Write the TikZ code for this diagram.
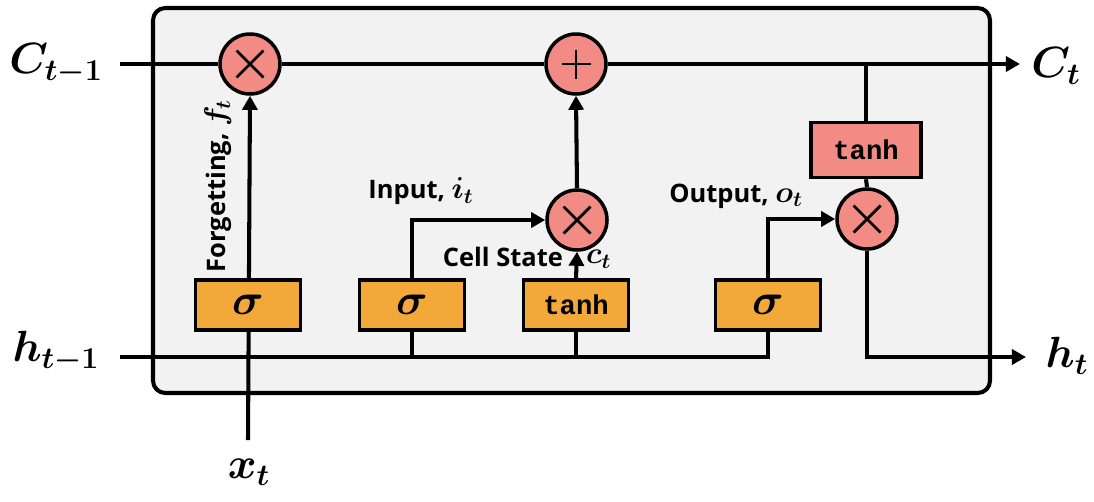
\documentclass[tikz,border=0pt]{standalone}
\usepackage{amsmath,bm}
\usepackage{fontspec}
\setmainfont{Open Sans}
\setmonofont{Liberation Mono}
\usetikzlibrary{arrows.meta}
\definecolor{panel}{RGB}{242,242,242}
\definecolor{gatefill}{RGB}{243,168,58}
\definecolor{opfill}{RGB}{241,139,131}
\pgfdeclarelayer{back}
\pgfdeclarelayer{wires}
\pgfsetlayers{back,wires,main}
% gate symbol set next to a gate name
\newcommand{\gatesym}[1]{{\fontsize{18}{20}\selectfont$\bm{#1}$}}
\tikzset{
  wire/.style={line width=2.3pt},
  flow/.style={wire,-{Triangle[length=8pt,width=8.5pt]}},
  gatebox/.style={draw,line width=2pt,fill=gatefill,minimum width=2.1cm,minimum height=1.0cm,inner sep=0pt},
  actbox/.style={draw,line width=2pt,fill=opfill,minimum width=2.2cm,minimum height=1.1cm,inner sep=0pt},
  opcirc/.style={circle,draw,line width=2pt,fill=opfill,minimum size=1.2cm,inner sep=0pt},
  mulop/.style={opcirc,path picture={
      \draw[line width=1.6pt]
        ([shift={(-0.27cm,-0.27cm)}]path picture bounding box.center) --
        ([shift={(0.27cm,0.27cm)}]path picture bounding box.center)
        ([shift={(-0.27cm,0.27cm)}]path picture bounding box.center) --
        ([shift={(0.27cm,-0.27cm)}]path picture bounding box.center);}},
  addop/.style={opcirc,path picture={
      \draw[line width=1.6pt]
        ([shift={(-0.29cm,0cm)}]path picture bounding box.center) --
        ([shift={(0.29cm,0cm)}]path picture bounding box.center)
        ([shift={(0cm,0.29cm)}]path picture bounding box.center) --
        ([shift={(0cm,-0.29cm)}]path picture bounding box.center);}},
  sigbox/.style={gatebox,font=\fontsize{23}{25}\selectfont},
  fnbox/.style={font=\fontsize{15.5}{17}\selectfont\ttfamily\bfseries},
  lbl/.style={font=\fontsize{14.5}{16}\selectfont\bfseries,inner sep=1pt},
  io/.style={font=\fontsize{26}{28}\selectfont,inner sep=0pt}
}
\begin{document}
\begin{tikzpicture}[x=0.02cm,y=-0.02cm]
\useasboundingbox (0,0) rectangle (1094,501);

% cell panel
\begin{pgfonlayer}{back}
  \draw[line width=2.3pt,fill=panel,rounded corners=7pt] (153,8) rectangle (990,393);
\end{pgfonlayer}

% point-wise operators
\node[mulop] (fx) at (250,64) {};
\node[addop] (plus) at (576,64) {};
\node[mulop] (mi) at (577,220) {};
\node[mulop] (mo) at (867,219) {};
\node[actbox,fnbox] (ot) at (866,150) {tanh};

% gate layers
\node[sigbox] (gf) at (248,305) {$\bm{\sigma}$};
\node[sigbox] (gi) at (412,305) {$\bm{\sigma}$};
\node[gatebox,fnbox] (gc) at (576,305) {tanh};
\node[sigbox] (go) at (768,305) {$\bm{\sigma}$};

% inputs and outputs
\node[io] (cin) at (56,64) {$\bm{C_{t-1}}$};
\node[io] (hin) at (56,352) {$\bm{h_{t-1}}$};
\node[io] (xin) at (249,472) {$\bm{x_t}$};
\node[io] (cout) at (1056,66) {$\bm{C_t}$};
\node[io] (hout) at (1067,356) {$\bm{h_t}$};

\coordinate (cstart) at (120,64);
\coordinate (cend) at (1020,64);
\coordinate (hstart) at (120,357);
\coordinate (hend) at (1026,357);
\coordinate (xstart) at (248,440);
\coordinate (tap) at (866,64);

% gate labels
\node[lbl,rotate=90] (lf) at (218,186) {Forgetting, \gatesym{f_t}};
\node[lbl] (li) at (421,191) {Input, \gatesym{i_t}};
\node[lbl] (lo) at (736,196) {Output, \gatesym{o_t}};
\node[lbl,anchor=east] (lc) at (565,257) {Cell State};
\node[lbl,anchor=west] (lct) at (584,259) {\gatesym{c_t}};

\begin{pgfonlayer}{wires}
  % cell state line
  \draw[wire] (cstart) -- (fx.west);
  \draw[wire] (fx.east) -- (plus.west);
  \draw[flow] (plus.east) -- (cend);
  % hidden state bus
  \draw[wire] (hstart) -| (go.south);
  \draw[wire] (gi.south) -- (gi.south |- hstart);
  \draw[wire] (gc.south) -- (gc.south |- hstart);
  % forget path
  \draw[flow] (xstart) -- (fx.south);
  % input path
  \draw[flow] (gi.north) |- (mi.west);
  \draw[flow] (gc.north) -- (mi.south);
  \draw[flow] (mi.north) -- (plus.south);
  % output path
  \draw[flow] (go.north) |- (mo.west);
  \draw[wire] (tap) -- (ot.north);
  \draw[wire] (ot.south) -- (mo.north);
  \draw[flow] (mo.south) |- (hend);
\end{pgfonlayer}
\end{tikzpicture}
\end{document}
